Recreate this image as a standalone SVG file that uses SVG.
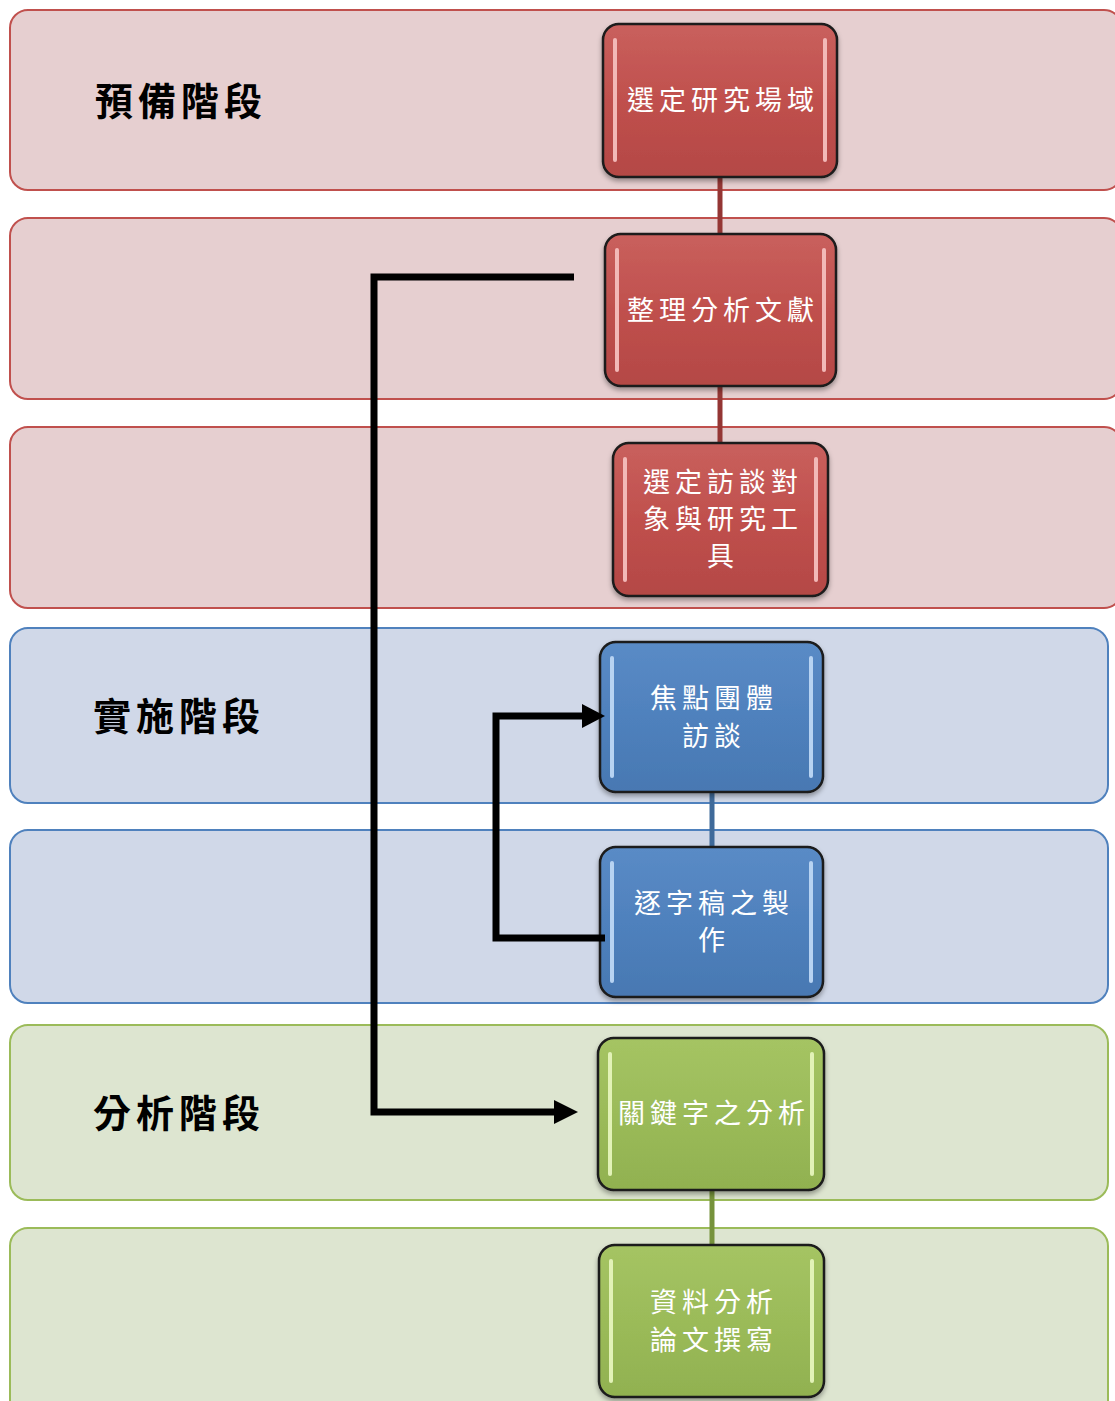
<svg xmlns="http://www.w3.org/2000/svg" width="1115" height="1401" viewBox="0 0 1115 1401">
<defs>
<style>
.bandR{fill:#e6cfd0;stroke:#c0504d;stroke-width:2}
.bandB{fill:#d0d8e8;stroke:#4f81bd;stroke-width:2}
.bandG{fill:#dde5d0;stroke:#9bbb59;stroke-width:2}
.lbl{font-family:"Noto Sans CJK TC","Noto Sans CJK SC",sans-serif;font-weight:bold;font-size:38px;fill:#000;letter-spacing:5px}
.ntxt{font-family:"Noto Sans CJK TC","Noto Sans CJK SC",sans-serif;font-size:27px;fill:#fff;letter-spacing:5px;text-anchor:middle}
.node{stroke:#1a1a1a;stroke-width:2.5}
.hl{stroke-width:4;stroke-linecap:round;fill:none}
.conn{fill:none;stroke:#000;stroke-width:7;stroke-linejoin:miter}
</style>
<linearGradient id="gR" x1="0" y1="0" x2="0" y2="1"><stop offset="0" stop-color="#c9605d"/><stop offset="0.5" stop-color="#c0504d"/><stop offset="1" stop-color="#b44845"/></linearGradient>
<linearGradient id="gB" x1="0" y1="0" x2="0" y2="1"><stop offset="0" stop-color="#5a8bc6"/><stop offset="0.5" stop-color="#4f81bd"/><stop offset="1" stop-color="#4878b2"/></linearGradient>
<linearGradient id="gG" x1="0" y1="0" x2="0" y2="1"><stop offset="0" stop-color="#a5c463"/><stop offset="0.5" stop-color="#9bbb59"/><stop offset="1" stop-color="#91b150"/></linearGradient>
<filter id="sh" x="-10%" y="-10%" width="120%" height="125%"><feDropShadow dx="0" dy="3" stdDeviation="2.5" flood-color="#000" flood-opacity="0.35"/></filter>
</defs>

<g id="bands">
<rect class="bandR" x="10" y="10" width="1112" height="180" rx="18"/>
<rect class="bandR" x="10" y="218" width="1112" height="181" rx="18"/>
<rect class="bandR" x="10" y="427" width="1112" height="181" rx="18"/>
<rect class="bandB" x="10" y="628" width="1098" height="175" rx="18"/>
<rect class="bandB" x="10" y="830" width="1098" height="173" rx="18"/>
<rect class="bandG" x="10" y="1025" width="1098" height="175" rx="18"/>
<rect class="bandG" x="10" y="1228" width="1098" height="190" rx="18"/>
</g>

<g id="labels">
<text class="lbl" x="95" y="98" dominant-baseline="central">預備階段</text>
<text class="lbl" x="93" y="713" dominant-baseline="central">實施階段</text>
<text class="lbl" x="93" y="1110" dominant-baseline="central">分析階段</text>
</g>

<g id="links">
<line x1="720" y1="170" x2="720" y2="240" stroke="#943634" stroke-width="5"/>
<line x1="720" y1="380" x2="720" y2="450" stroke="#943634" stroke-width="5"/>
<line x1="712" y1="786" x2="712" y2="853" stroke="#3f6a9a" stroke-width="5"/>
<line x1="712" y1="1184" x2="712" y2="1251" stroke="#76923c" stroke-width="5"/>
</g>

<g id="n1">
<rect class="node" x="603" y="24" width="234" height="153" rx="16" fill="url(#gR)" filter="url(#sh)"/>
<line class="hl" x1="615" y1="40" x2="615" y2="160" stroke="#f2b9b7"/>
<line class="hl" x1="825" y1="40" x2="825" y2="160" stroke="#f2b9b7"/>
<text class="ntxt" x="723" y="98" dominant-baseline="central">選定研究場域</text>
</g>
<g id="n2">
<rect class="node" x="605" y="234" width="231" height="152" rx="16" fill="url(#gR)" filter="url(#sh)"/>
<line class="hl" x1="617" y1="250" x2="617" y2="370" stroke="#f2b9b7"/>
<line class="hl" x1="824" y1="250" x2="824" y2="370" stroke="#f2b9b7"/>
<text class="ntxt" x="723" y="308" dominant-baseline="central">整理分析文獻</text>
</g>
<g id="n3">
<rect class="node" x="613" y="443" width="215" height="153" rx="16" fill="url(#gR)" filter="url(#sh)"/>
<line class="hl" x1="625" y1="459" x2="625" y2="580" stroke="#f2b9b7"/>
<line class="hl" x1="816" y1="459" x2="816" y2="580" stroke="#f2b9b7"/>
<text class="ntxt" x="723" y="480" dominant-baseline="central">選定訪談對</text>
<text class="ntxt" x="723" y="517" dominant-baseline="central">象與研究工</text>
<text class="ntxt" x="723" y="554" dominant-baseline="central">具</text>
</g>
<g id="n4">
<rect class="node" x="600" y="642" width="223" height="150" rx="16" fill="url(#gB)" filter="url(#sh)"/>
<line class="hl" x1="612" y1="658" x2="612" y2="776" stroke="#b7d3f2"/>
<line class="hl" x1="811" y1="658" x2="811" y2="776" stroke="#b7d3f2"/>
<text class="ntxt" x="714" y="696" dominant-baseline="central">焦點團體</text>
<text class="ntxt" x="714" y="734" dominant-baseline="central">訪談</text>
</g>
<g id="n5">
<rect class="node" x="600" y="847" width="223" height="150" rx="16" fill="url(#gB)" filter="url(#sh)"/>
<line class="hl" x1="612" y1="863" x2="612" y2="981" stroke="#b7d3f2"/>
<line class="hl" x1="811" y1="863" x2="811" y2="981" stroke="#b7d3f2"/>
<text class="ntxt" x="714" y="901" dominant-baseline="central">逐字稿之製</text>
<text class="ntxt" x="714" y="938" dominant-baseline="central">作</text>
</g>
<g id="n6">
<rect class="node" x="598" y="1038" width="226" height="152" rx="16" fill="url(#gG)" filter="url(#sh)"/>
<line class="hl" x1="610" y1="1054" x2="610" y2="1174" stroke="#e2f2b7"/>
<line class="hl" x1="812" y1="1054" x2="812" y2="1174" stroke="#e2f2b7"/>
<text class="ntxt" x="714" y="1111" dominant-baseline="central">關鍵字之分析</text>
</g>
<g id="n7">
<rect class="node" x="599" y="1245" width="225" height="152" rx="16" fill="url(#gG)" filter="url(#sh)"/>
<line class="hl" x1="611" y1="1261" x2="611" y2="1381" stroke="#e2f2b7"/>
<line class="hl" x1="812" y1="1261" x2="812" y2="1381" stroke="#e2f2b7"/>
<text class="ntxt" x="714" y="1300" dominant-baseline="central">資料分析</text>
<text class="ntxt" x="714" y="1338" dominant-baseline="central">論文撰寫</text>
</g>

<g id="connectors">
<polyline class="conn" points="574,277 374,277 374,1112 556,1112"/>
<path d="M554,1100 L578,1112 L554,1124 Z" fill="#000"/>
<polyline class="conn" points="605,938 496,938 496,716 584,716"/>
<path d="M582,704 L605,716 L582,728 Z" fill="#000"/>
</g>
</svg>
